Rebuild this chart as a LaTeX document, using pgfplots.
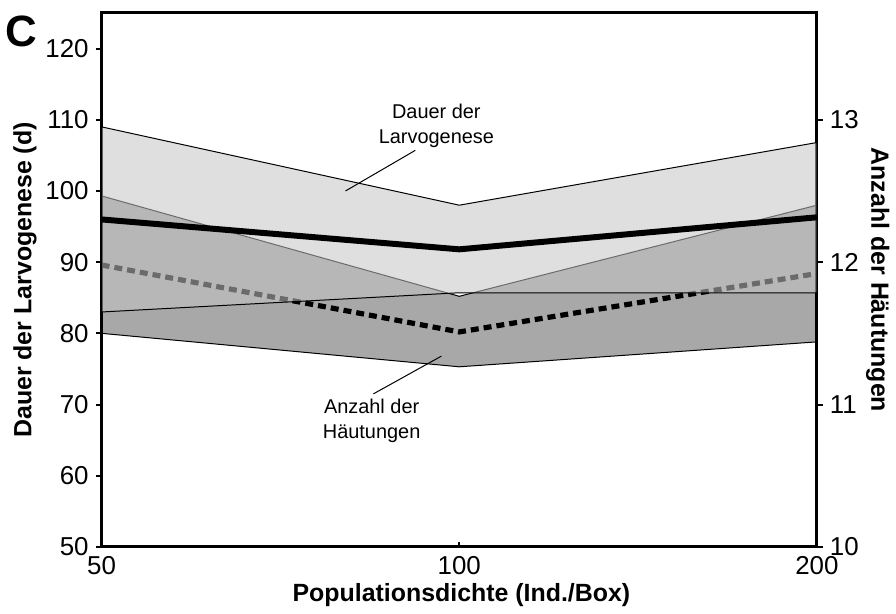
\documentclass[border=0pt]{standalone}
\usepackage{fontspec}
\setmainfont{Liberation Sans}
\usepackage{pgfplots}
\usepackage{pgfplotstable}
\pgfplotsset{compat=1.18}
\usetikzlibrary{calc}

% Anzahl der Haeutungen (right axis units)
\pgfplotstableread{
x y
0 12.465
1 11.76
2 12.40
2 11.44
1 11.265
0 11.50
}\hautband
\pgfplotstableread{
x y
0 11.98
1 11.51
2 11.92
}\hautmean
% Dauer der Larvogenese (left axis units, d)
\pgfplotstableread{
x y
0 109.0
1 98.0
2 106.8
2 85.7
1 85.7
0 83.0
}\dauerband
\pgfplotstableread{
x y
0 96.0
1 91.8
2 96.3
}\dauermean

\definecolor{hautfill}{gray}{0.66}
\definecolor{dauerfill}{gray}{0.77}

\begin{document}
\begin{tikzpicture}
\pgfplotsset{
  every tick label/.append style={font=\fontsize{13}{13}\selectfont},
  /pgf/number format/assume math mode=true,
}
\begin{axis}[
  name=ax1,
  scale only axis, width=359pt, height=268pt,
  xmin=0, xmax=2, ymin=10, ymax=13.75,
  axis x line=none,
  axis y line*=right,
  axis line style={line width=1.5pt, -},
  ytick={10,11,12,13},
  tick align=outside,
  major tick length=3pt,
  tick style={line width=1pt, black},
  every axis y label/.style={at={(axis description cs:1.085,0.5)}, anchor=center, rotate=-90},
  ylabel={\fontsize{12.5}{12.5}\selectfont\bfseries Anzahl der Häutungen},
]
\addplot[draw=black, line width=0.5pt, fill=hautfill] table {\hautband} -- cycle;
\addplot[black, line width=2.6pt, dash pattern=on 4pt off 2.5pt] table {\hautmean};
\end{axis}
\begin{axis}[
  name=ax2,
  scale only axis, width=359pt, height=268pt,
  xmin=0, xmax=2, ymin=50, ymax=125,
  clip=false,
  axis line style={line width=1.5pt},
  xtick={0,1,2}, xticklabels={50,100,200},
  ytick={50,60,...,120},
  ytick pos=left, xtick pos=bottom,
  y tick style={line width=1pt, black},
  x tick style={line width=1pt, black, yshift=2.5pt},
  tick align=outside,
  major tick length=3pt,
  xticklabel style={yshift=2pt},
  every axis y label/.style={at={(axis description cs:-0.107,0.5)}, anchor=center, rotate=90},
  every axis x label/.style={at={(axis description cs:0.503,-0.091)}, anchor=center},
  ylabel={\fontsize{12.5}{12.5}\selectfont\bfseries Dauer der Larvogenese (d)},
  xlabel={\fontsize{12.5}{12.5}\selectfont\bfseries Populationsdichte (Ind./Box)},
]
\addplot[draw=black, line width=0.5pt, fill=dauerfill, fill opacity=0.55] table {\dauerband} -- cycle;
\addplot[black, line width=3pt] table {\dauermean};
\draw[line width=0.5pt] (axis cs:0.877,105.7) -- (axis cs:0.682,100.0);
\draw[line width=0.5pt] (axis cs:0.760,71.5) -- (axis cs:0.950,76.8);
\node[align=center, font=\fontsize{10}{12.5}\selectfont] at (axis cs:0.936,109.1) {Dauer der\\Larvogenese};
\node[align=center, font=\fontsize{10}{12.5}\selectfont] at (axis cs:0.755,67.7) {Anzahl der\\Häutungen};
\node[font=\fontsize{22}{22}\selectfont\bfseries, inner sep=0pt] at (axis description cs:-0.112,0.966) {C};
\end{axis}
\path ($(ax2.south west)+(-51pt,-33.5pt)$) rectangle +(448pt,308pt);
\end{tikzpicture}
\end{document}
